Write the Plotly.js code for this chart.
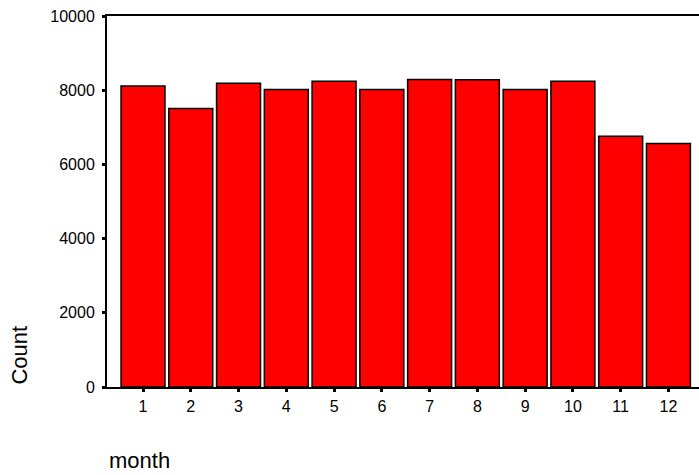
<!DOCTYPE html>
<html>
<head>
<meta charset="utf-8">
<script src="https://cdn.plot.ly/plotly-3.0.1.min.js"></script>
<style>html,body{margin:0;padding:0;background:#fff;}#chart{width:699px;height:475px;}</style>
</head>
<body>
<div id="chart"></div>
<script>
var months = [1, 2, 3, 4, 5, 6, 7, 8, 9, 10, 11, 12];
var counts = [8110, 7510, 8190, 8020, 8240, 8020, 8290, 8280, 8020, 8240, 6760, 6560];
var yTicks = [0, 2000, 4000, 6000, 8000, 10000];
var xTitle = "month";
var yTitle = "Count";

var font = "'Liberation Sans', Arial, sans-serif";

var trace = {
  type: "bar",
  x: months,
  y: counts,
  marker: {color: "#ff0000", line: {color: "#000000", width: 1.5}},
  hoverinfo: "x+y"
};

var layout = {
  width: 699, height: 475,
  margin: {l: 107, r: 0, t: 16, b: 88, pad: 0},
  paper_bgcolor: "#ffffff",
  plot_bgcolor: "#ffffff",
  bargap: 0.08,
  showlegend: false,
  font: {family: font, color: "#000000", size: 16},
  xaxis: {
    type: "linear",
    range: [0.246, 12.64],
    tickvals: months,
    ticktext: months.map(String),
    ticks: "outside", ticklen: 3, tickwidth: 3, tickcolor: "#000",
    showline: true, linecolor: "#000", linewidth: 2, mirror: true,
    showgrid: false, zeroline: false,
    tickfont: {family: font, size: 16, color: "#000"},
    ticklabelstandoff: 1,
    fixedrange: true
  },
  yaxis: {
    range: [0, 10000],
    tickvals: yTicks,
    ticktext: yTicks.map(String),
    ticks: "outside", ticklen: 3, tickwidth: 3, tickcolor: "#000",
    showline: true, linecolor: "#000", linewidth: 2, mirror: false,
    showgrid: false, zeroline: false,
    tickfont: {family: font, size: 16, color: "#000"},
    ticklabelstandoff: 4,
    fixedrange: true
  },
  annotations: [
    {text: yTitle, xref: "paper", yref: "paper", x: -0.1486, y: 0,
     xanchor: "center", yanchor: "bottom", textangle: -90, showarrow: false,
     font: {family: font, size: 22, color: "#000"}},
    {text: xTitle, xref: "paper", yref: "paper", x: 0, y: -0.197,
     xanchor: "left", yanchor: "middle", showarrow: false,
     font: {family: font, size: 22, color: "#000"}}
  ]
};

Plotly.newPlot("chart", [trace], layout, {displayModeBar: false, staticPlot: true});
</script>
</body>
</html>
